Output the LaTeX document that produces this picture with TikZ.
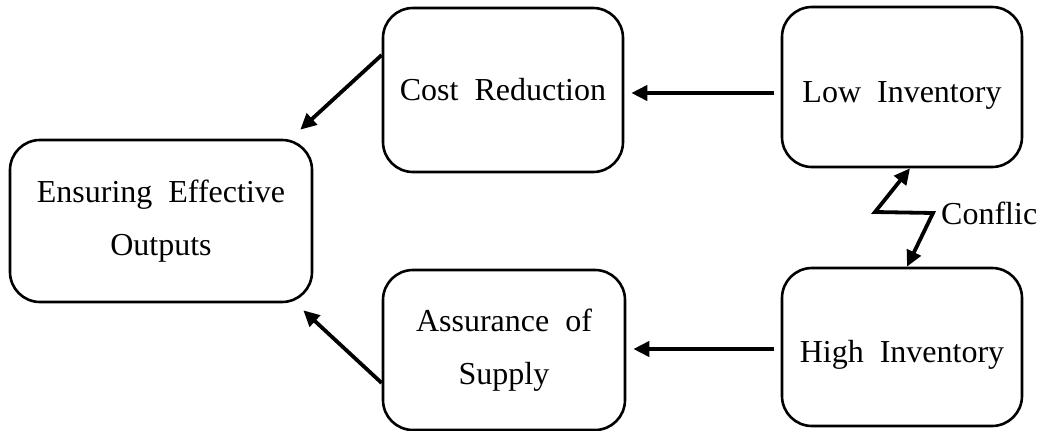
\documentclass[tikz,border=0pt]{standalone}
\usepackage{fontspec}
\setmainfont{Liberation Serif}
\usetikzlibrary{arrows.meta,calc}
\begin{document}
\begin{tikzpicture}[x=1pt,y=-1pt,
  box/.style={draw,line width=2.6pt,rounded corners=30pt,align=center,inner sep=0pt,font=\fontsize{32}{53}\selectfont},
  arr/.style={line width=3.8pt,-{Triangle[length=16pt,width=15pt]}},
  lbl/.style={font=\fontsize{32}{40}\selectfont,inner sep=0pt}]
\useasboundingbox (0,0) rectangle (1050,431);
\node[box,minimum width=302pt,minimum height=162pt] (ens) at (161,221) {Ensuring\ \ Effective\\Outputs};
\node[box,minimum width=240pt,minimum height=164pt] (cost) at (503,90) {Cost\ \ Reduction};
\node[box,minimum width=240pt,minimum height=160pt] (low) at (902,87) {\raisebox{-15pt}[0pt][0pt]{Low\ \ Inventory}};
\node[box,minimum width=240pt,minimum height=158pt] (high) at (902,347) {\raisebox{-15pt}[0pt][0pt]{High\ \ Inventory}};
\node[box,minimum width=242pt,minimum height=160pt] (ass) at (504,350) {Assurance\ \ of\\Supply};
\coordinate (a1) at ($(low.west)+(-7,6)$);
\coordinate (a2) at ($(high.west)+(-7,2)$);
\draw[arr] (a1) -- (a1 -| {$(cost.east)+(7,0)$});
\draw[arr] (a2) -- (a2 -| {$(ass.east)+(7,0)$});
\draw[arr] ($(cost.west)+(0,-35)$) -- ($(ens.north east)+(-13,-9)$);
\draw[arr] ($(ass.west)+(0,33)$) -- ($(ens.south east)+(-10,7)$);
\coordinate (z1) at (933,213);
\coordinate (z2) at (875,212);
\draw[line width=3.8pt,{Triangle[length=16pt,width=15pt]}-{Triangle[length=16pt,width=15pt]},line join=miter]
  ($(high.north)+(5,0)$) -- (z1) -- (z2) -- ($(low.south)+(8,0)$);
\node[lbl,anchor=west] (conf) at (941,213) {Conflic};
\end{tikzpicture}
\end{document}
